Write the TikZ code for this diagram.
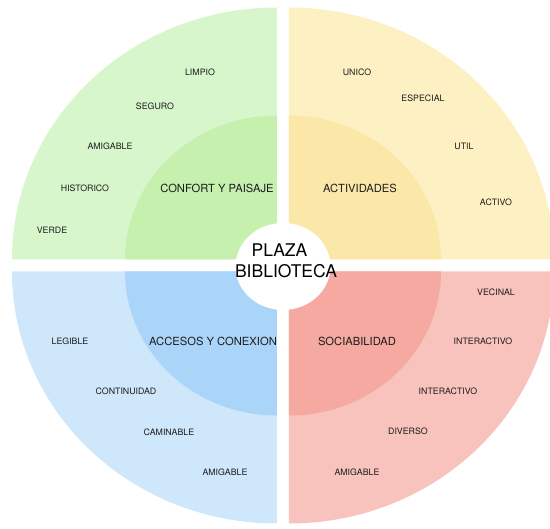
\documentclass[tikz,border=0pt]{standalone}
\usepackage{fontspec}
\setmainfont{TeX Gyre Heros}
\usepackage{tikz}
\definecolor{ink}{HTML}{1C1C1C}
\definecolor{confortout}{HTML}{D8F6CC}
\definecolor{confortin}{HTML}{C5F0AE}
\definecolor{activout}{HTML}{FDF0C2}
\definecolor{activin}{HTML}{FBE8A8}
\definecolor{accesout}{HTML}{CFE7FB}
\definecolor{accesin}{HTML}{AAD4F8}
\definecolor{socout}{HTML}{F8C3BC}
\definecolor{socin}{HTML}{F5A9A1}

\begin{document}
\begin{tikzpicture}[x=1pt, y=1pt,
    word/.style={font=\fontsize{8.8}{10}\selectfont, text=ink},
    theme/.style={font=\fontsize{11.2}{13}\selectfont, text=ink},
    hub/.style={font=\fontsize{17.5}{21}\selectfont, text=black}]
      \useasboundingbox (-283,-263.5) rectangle (267,265.5);
      \clip (-283,-263.5) rectangle (267,265.5);
      % four quarter rings, outer then inner
      \foreach \dx/\dy/\a/\co/\ci in {-1/1/90/confortout/confortin, 1/1/0/activout/activin,
          -1/-1/180/accesout/accesin, 1/-1/270/socout/socin} {
        \fill[\co] (6*\dx,6*\dy) -- ++({265*cos(\a)},{252*sin(\a)})
          arc[start angle=\a, end angle=\a+90, x radius=265pt, y radius=252pt] -- cycle;
        \fill[\ci] (6*\dx,6*\dy) -- ++({152*cos(\a)},{144*sin(\a)})
          arc[start angle=\a, end angle=\a+90, x radius=152pt, y radius=144pt] -- cycle;
      }
      \fill[white] (0,-1) ellipse [x radius=47.5pt, y radius=43.5pt];
      \node [hub] (plaza) at (-3.5,15.5) {PLAZA};
      \node [hub] (biblio) at (3,-5.5) {BIBLIOTECA};
      % confort y paisaje
      \node [theme] (confort) at (-66,77.5) {CONFORT Y PAISAJE};
      \node [word] (limpio) at (-83,193.5) {LIMPIO};
      \node [word] (seguro) at (-128,159.5) {SEGURO};
      \node [word] (amigable1) at (-173,119.5) {AMIGABLE};
      \node [word] (historico) at (-198,77.5) {HISTORICO};
      \node [word] (verde) at (-231,35.5) {VERDE};
      % actividades
      \node [theme] (activ) at (77,77.5) {ACTIVIDADES};
      \node [word] (unico) at (74,193.5) {UNICO};
      \node [word] (especial) at (140,167.5) {ESPECIAL};
      \node [word] (util) at (181,119.5) {UTIL};
      \node [word] (activo) at (213,63.5) {ACTIVO};
      % accesos y conexion
      \node [theme] (acces) at (-70,-75.5) {ACCESOS Y CONEXION};
      \node [word] (legible) at (-213,-75.5) {LEGIBLE};
      \node [word] (continuidad) at (-157,-125.5) {CONTINUIDAD};
      \node [word] (caminable) at (-114,-166.5) {CAMINABLE};
      \node [word] (amigable2) at (-58,-206.5) {AMIGABLE};
      % sociabilidad
      \node [theme] (social) at (74,-75.5) {SOCIABILIDAD};
      \node [word] (vecinal) at (213,-26.5) {VECINAL};
      \node [word] (interact1) at (200,-75.5) {INTERACTIVO};
      \node [word] (interact2) at (165,-125.5) {INTERACTIVO};
      \node [word] (diverso) at (125,-165.5) {DIVERSO};
      \node [word] (amigable3) at (74,-206.5) {AMIGABLE};
  \end{tikzpicture}
\end{document}
